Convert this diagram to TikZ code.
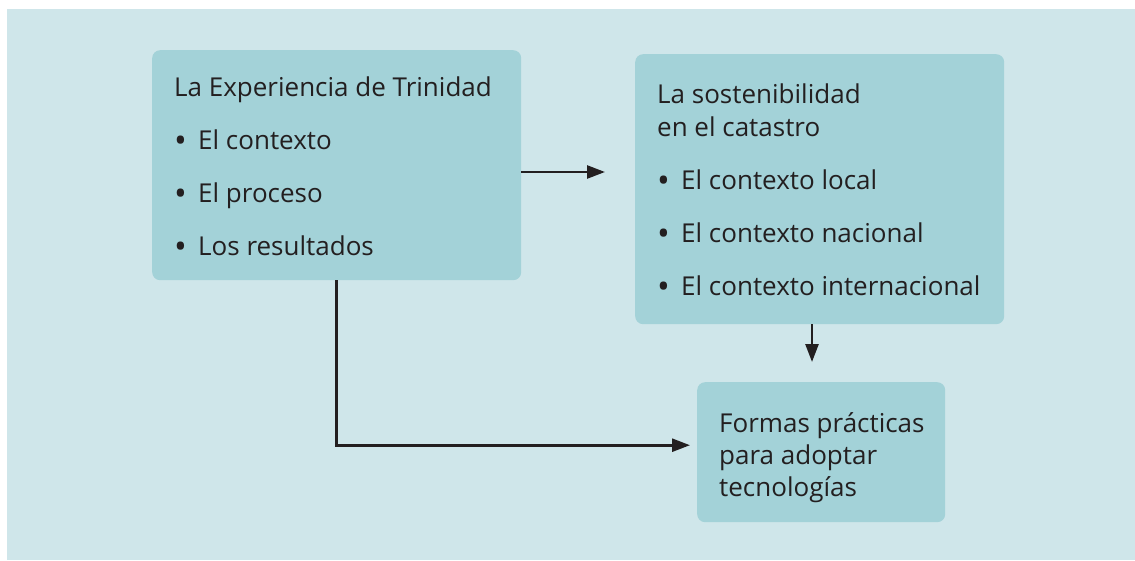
\documentclass[tikz,border=0pt]{standalone}
\usepackage{fontspec}
\setmainfont{Open Sans}
\usetikzlibrary{arrows.meta}
\definecolor{bgblue}{HTML}{CFE6EA}
\definecolor{boxblue}{HTML}{A3D2D8}
\definecolor{txtgray}{HTML}{231F20}
\newcommand{\blt}{\makebox[24pt][l]{\raisebox{-3pt}{\fontsize{34}{34}\selectfont\textbullet}}}

\begin{document}
\begin{tikzpicture}[x=1pt, y=-1pt,
    box/.style={fill=boxblue, rounded corners=8pt, inner sep=0pt, anchor=north west},
    txt/.style={anchor=base west, inner sep=0pt, text=txtgray, font=\fontsize{26}{30}\selectfont},
    arr/.style={-{Triangle[length=18pt,width=13pt]}, line width=2.6pt, draw=txtgray}]
    \useasboundingbox (0,0) rectangle (1135,561);
    \fill[bgblue] (7,9) rectangle (1135,560);
    % boxes
    \node[box, minimum width=369pt, minimum height=230pt] (trinidad) at (152,50) {};
    \node[box, minimum width=369pt, minimum height=270pt] (sosten) at (635,54) {};
    \node[box, minimum width=248pt, minimum height=140pt] (formas) at (697,382) {};
    % texts
    \node[txt] (tritit) at (174,97) {La Experiencia de Trinidad};
    \foreach \t [count=\i] in {El contexto, El proceso, Los resultados}
        \node[txt] (tri\i) at (174,97+53*\i) {\blt\t};
    \node[txt] (sostit) at (657,104) {La sostenibilidad};
    \node[txt] (sostit2) at (657,137) {en el catastro};
    \foreach \t [count=\i] in {El contexto local, El contexto nacional, El contexto internacional}
        \node[txt] (sos\i) at (657,137+53*\i) {\blt\t};
    \foreach \t [count=\i] in {Formas prácticas, para adoptar, tecnologías}
        \node[txt] (for\i) at (719,400+32*\i) {\t};
    % arrows
    \draw[arr, shorten >=30pt] (trinidad.east |- 0,172) -- (sosten.west |- 0,172);
    \draw[arr, shorten >=20pt] (812,0 |- sosten.south) -- (812,0 |- formas.north);
    \draw[arr] (trinidad.south) |- ([xshift=-7pt,yshift=7pt]formas.west);
\end{tikzpicture}
\end{document}
